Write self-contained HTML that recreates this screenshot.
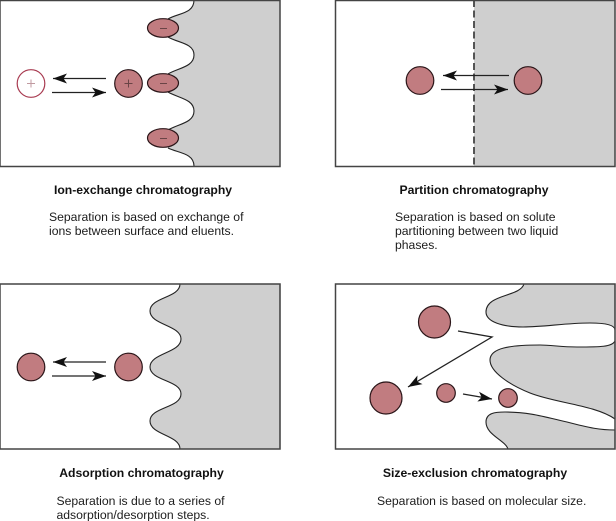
<!DOCTYPE html>
<html>
<head>
<meta charset="utf-8">
<style>
html,body{margin:0;padding:0;background:#fff;width:616px;height:521px;overflow:hidden}
svg{display:block}
text{font-family:"Liberation Sans",sans-serif;font-size:12.2px;fill:#1c1c1c}
.b{font-weight:bold;text-anchor:middle;fill:#111}
.o{stroke:#2a1518;stroke-width:1.2;fill:#c17c80}
.l{stroke:#222;stroke-width:1.3;fill:none}
.c{stroke:#222;stroke-width:1.1;fill:#cfcfcf}
.f{stroke:#444;stroke-width:1.5;fill:none}
</style>
</head>
<body>
<svg width="616" height="521" viewBox="0 0 616 521" xmlns="http://www.w3.org/2000/svg">
<defs>
<marker id="a" markerUnits="userSpaceOnUse" markerWidth="14" markerHeight="10" refX="14" refY="5" orient="auto">
<path d="M0 0L14 5L0 10L3.500 5Z" fill="#111"/>
</marker>
</defs>

<!-- Panel 1 -->
<path d="M194 0C194 14 178 13 168 19L168 37C178 43 194 43 194 55C194 67 178 68 168 74L168 92C178 98 194 99 194 111C194 123 178 124 168 130L168 148C178 153 194 153 194 166L280 166L280 0Z" style="fill:#cfcfcf;stroke:none"/>
<path d="M194 0C194 14 178 13 168 19M168 37C178 43 194 43 194 55C194 67 178 68 168 74M168 92C178 98 194 99 194 111C194 123 178 124 168 130M168 148C178 153 194 153 194 166" class="l" style="stroke-width:1.1"/>
<rect x="0" y="0.500" width="280" height="166" class="f"/>
<ellipse cx="163" cy="28" rx="15.500" ry="9.300" class="o"/>
<ellipse cx="163" cy="83" rx="15.500" ry="9.300" class="o"/>
<ellipse cx="163" cy="138" rx="15.500" ry="9.300" class="o"/>
<path d="M160 28.500h7M160 83.500h7M160 138.500h7" stroke="#6a4446" stroke-width="1"/>
<circle cx="31" cy="83.500" r="13.800" fill="#fff" stroke="#a83a50" stroke-width="1.200"/>
<path d="M27 83.500h8M31 79.500v8" stroke="#c09aa0" stroke-width="1"/>
<circle cx="128.500" cy="83.500" r="13.800" class="o"/>
<path d="M124.500 83.500h8M128.500 79.500v8" stroke="#6a4446" stroke-width="1"/>
<path d="M106 78.500H53" class="l" marker-end="url(#a)"/>
<path d="M52 92.500H106" class="l" marker-end="url(#a)"/>

<!-- Panel 2 -->
<rect x="474" y="0.500" width="141" height="166" fill="#cfcfcf"/>
<rect x="335.500" y="0.500" width="279.500" height="166" class="f"/>
<path d="M474 0V166" stroke="#444" stroke-width="1.800" stroke-dasharray="7 3.500"/>
<circle cx="420" cy="80.500" r="13.800" class="o"/>
<circle cx="528" cy="80.500" r="13.800" class="o"/>
<path d="M509 75.500H443" class="l" marker-end="url(#a)"/>
<path d="M441 89.500H508" class="l" marker-end="url(#a)"/>

<!-- Panel 3 -->
<path d="M180 284C180 298 150 297 150 311C150 325 181 325 181 339C181 353 150 353 150 367C150 381 181 380 181 394C181 408 150 407 150 421C150 435 180 435 180 449L280 449L280 284Z" class="c"/>
<rect x="0" y="284" width="280" height="165" class="f"/>
<circle cx="31" cy="367" r="13.800" class="o"/>
<circle cx="128.500" cy="367" r="13.800" class="o"/>
<path d="M106 362H53" class="l" marker-end="url(#a)"/>
<path d="M52 376H106" class="l" marker-end="url(#a)"/>

<!-- Panel 4 -->
<path d="M524 284C520 297 486 294 486 312C486 322 503 327 523 327C545 327 565 323 590 323C605 323 615 325 615 330L615 284Z" class="c"/>
<path d="M615 341C612 347 600 347 577 347C560 347 552 345 540 345C510 345 490 348 490 360C490 372 510 385 530 393C555 403 595 405 615 419Z" class="c"/>
<path d="M615 430C600 430 590 428 567 422C545 417 530 412 505 412C495 412 486 413 486 422C486 435 505 440 508 449L615 449Z" class="c"/>
<rect x="335.500" y="284" width="279.500" height="165" class="f"/>
<circle cx="434.500" cy="322" r="16" class="o"/>
<circle cx="386" cy="398" r="16" class="o"/>
<circle cx="446" cy="393" r="9.300" class="o"/>
<circle cx="508" cy="398" r="9.300" class="o"/>
<path d="M458 331L492 337L408 387" class="l" stroke-linejoin="miter" marker-end="url(#a)"/>
<path d="M463 394L492 399" class="l" marker-end="url(#a)"/>

<!-- Text -->
<text x="143" y="194" class="b">Ion-exchange chromatography</text>
<text x="49" y="221">Separation is based on exchange of</text>
<text x="49" y="235">ions between surface and eluents.</text>

<text x="474" y="194" class="b">Partition chromatography</text>
<text x="395" y="221">Separation is based on solute</text>
<text x="395" y="235">partitioning between two liquid</text>
<text x="395" y="249">phases.</text>

<text x="141.500" y="477" class="b">Adsorption chromatography</text>
<text x="56.500" y="505">Separation is due to a series of</text>
<text x="56.500" y="519">adsorption/desorption steps.</text>

<text x="475" y="477" class="b">Size-exclusion chromatography</text>
<text x="377" y="505">Separation is based on molecular size.</text>
</svg>
</body>
</html>
